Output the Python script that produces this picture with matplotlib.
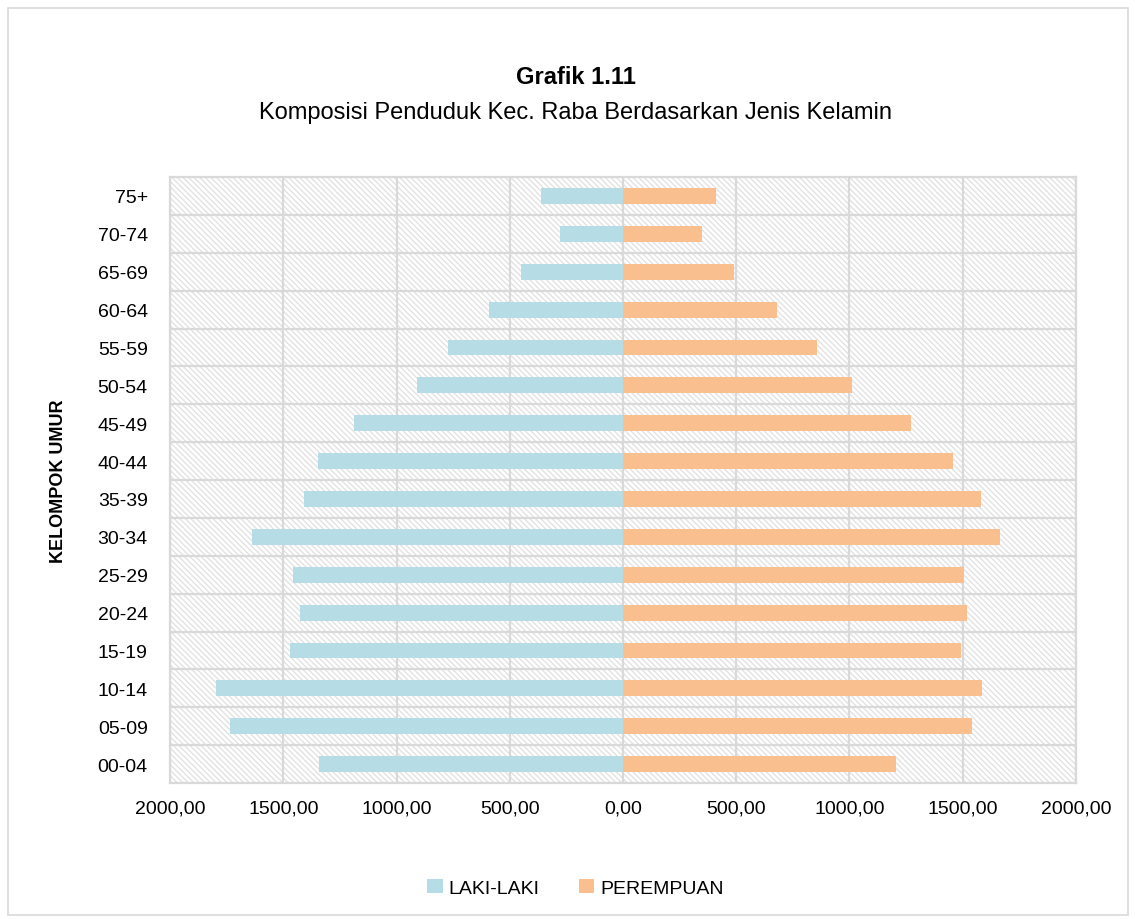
import matplotlib
matplotlib.use("Agg")
import matplotlib.pyplot as plt
from matplotlib.patches import Rectangle
from matplotlib.ticker import FuncFormatter, MultipleLocator
import numpy as np

plt.rcParams['font.family'] = ['Liberation Sans Narrow', 'Liberation Sans', 'DejaVu Sans']
plt.rcParams['hatch.linewidth'] = 0.9

age_groups = ["00-04", "05-09", "10-14", "15-19", "20-24", "25-29", "30-34", "35-39",
              "40-44", "45-49", "50-54", "55-59", "60-64", "65-69", "70-74", "75+"]
laki_laki = [1342, 1735, 1797, 1470, 1426, 1457, 1638, 1408,
             1347, 1188, 910, 773, 592, 450, 278, 362]
perempuan = [1205, 1541, 1585, 1492, 1519, 1506, 1664, 1581,
             1457, 1272, 1011, 856, 680, 490, 349, 411]

blue = '#b6dde6'
orange = '#f9bf8f'
grid_col = '#d9d9d9'

fig = plt.figure(figsize=(11.35, 9.2), dpi=100)
ax = fig.add_axes([0.1498, 0.1478, 0.948 - 0.1498, 0.8065 - 0.1478])

y = np.arange(len(age_groups))
ax.barh(y, [-v for v in laki_laki], height=0.42, color=blue, label='LAKI-LAKI', zorder=3)
ax.barh(y, perempuan, height=0.42, color=orange, label='PEREMPUAN', zorder=3)

ax.set_xlim(-2000, 2000)
ax.set_ylim(-0.5, len(age_groups) - 0.5)

# hatched background
ax.add_patch(Rectangle((0, 0), 1, 1, transform=ax.transAxes, facecolor='white',
                       edgecolor='#e0e0e0', linewidth=0, hatch='\\\\\\\\\\\\',
                       zorder=0.5))

ax.xaxis.set_major_locator(MultipleLocator(500))
ax.xaxis.set_major_formatter(FuncFormatter(lambda v, p: f"{abs(v):.2f}".replace('.', ',')))
ax.set_yticks(y)
ax.set_yticklabels(age_groups)
ax.set_yticks(y[:-1] + 0.5, minor=True)

ax.grid(axis='x', which='major', color=grid_col, linewidth=1.6)
ax.grid(axis='y', which='minor', color=grid_col, linewidth=1.6)
ax.grid(axis='y', which='major', visible=False)
ax.tick_params(axis='both', which='both', length=0, labelsize=14, colors='#000000')
ax.tick_params(axis='x', pad=12)
ax.tick_params(axis='y', pad=16)
for s in ax.spines.values():
    s.set_color(grid_col)
    s.set_linewidth(1.6)

ax.set_ylabel('KELOMPOK UMUR', fontsize=13, fontweight='bold', labelpad=22)

fig.text(0.507, 0.916, 'Grafik 1.11', ha='center', va='center', fontsize=17, fontweight='bold')
fig.text(0.507, 0.877, 'Komposisi Penduduk Kec. Raba Berdasarkan Jenis Kelamin',
         ha='center', va='center', fontsize=17)

fig.legend(loc='center', bbox_to_anchor=(0.507, 0.034), ncol=2, frameon=False,
           fontsize=14, handlelength=0.8, handleheight=0.8, columnspacing=2.0,
           handletextpad=0.3)

fig.patches.append(Rectangle((0.007, 0.004), 0.987, 0.986, transform=fig.transFigure,
                             fill=False, edgecolor='#d9d9d9', linewidth=1.2))

fig.savefig('out.png', dpi=100, facecolor='white')
